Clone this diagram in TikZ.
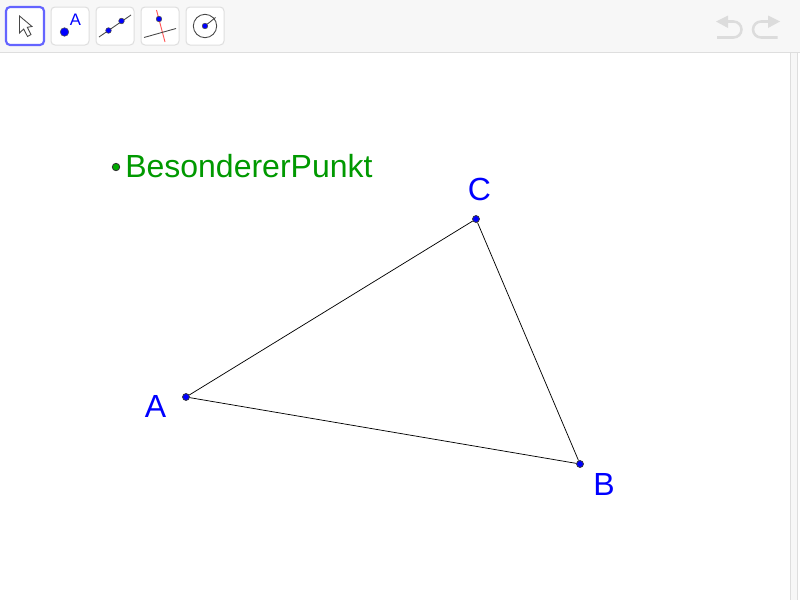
\documentclass[tikz,border=0pt]{standalone}
\usepackage{fontspec}
\setmainfont{Liberation Sans}
\definecolor{ggblue}{RGB}{0,0,255}
\definecolor{gggreen}{RGB}{0,153,0}
\definecolor{dotgreen}{RGB}{0,170,0}
\definecolor{barbg}{RGB}{247,247,247}
\definecolor{barline}{RGB}{222,222,222}
\definecolor{btnline}{RGB}{222,222,222}
\definecolor{undo}{RGB}{220,220,220}
\definecolor{sel}{RGB}{100,100,255}
\definecolor{icon}{RGB}{70,70,70}
\tikzset{
  x=0.75pt,y=-0.75pt,
  btn/.style={draw=btnline,line width=0.75pt,fill=white,rounded corners=3pt},
  pt/.style={circle,draw=black!80,line width=0.55pt,fill=ggblue,inner sep=0pt,minimum size=5.2pt},
  greenpt/.style={circle,draw=black!80,line width=0.6pt,fill=dotgreen,inner sep=0pt,minimum size=5.6pt},
  icopt/.style={circle,draw=black!70,line width=0.4pt,fill=ggblue,inner sep=0pt,minimum size=4.2pt},
  lab/.style={font=\fontsize{24}{24}\selectfont,text=ggblue,inner sep=0pt,anchor=base},
  edge/.style={draw=black,line width=0.55pt},
  ico/.style={draw=icon,line width=0.65pt},
  undoarrow/.style={draw=undo,line width=1.9pt}
}
\begin{document}
\begin{tikzpicture}
\useasboundingbox (0,0) rectangle (800,600);
\fill[white] (0,0) rectangle (800,600);
% toolbar and scrollbar
\fill[barbg] (0,0) rectangle (800,52.5);
\draw[barline,line width=0.75pt] (0,52.5) -- (800,52.5);
\fill[barbg] (790.5,53) rectangle (797.5,600);
\draw[barline,line width=0.75pt] (790.5,53) -- (790.5,600);
\draw[barline,line width=0.75pt] (797.5,53) -- (797.5,600);
% buttons
\draw[draw=sel,line width=1.6pt,fill=white,rounded corners=3pt] (6,7) rectangle (44,45);
\draw[btn] (51,7) rectangle (89,45);
\draw[btn] (96,7) rectangle (134,45);
\draw[btn] (141,7) rectangle (179,45);
\draw[btn] (186,7) rectangle (224,45);
% move icon
\draw[ico,fill=white,line join=miter] (19.5,16) -- (19.5,33) -- (23.7,29) -- (27.5,36.5) -- (31,34.5) -- (27.3,27.3) -- (32,26.5) -- cycle;
% point icon
\node[circle,fill=ggblue,draw=black!70,line width=0.4pt,inner sep=0pt,minimum size=6.4pt] (icA) at (64.5,32) {};
\node[font=\fontsize{12.5}{13}\selectfont,text=ggblue,inner sep=0pt,anchor=base] (icAt) at (75.5,25) {A};
% line icon
\coordinate (l1) at (99,37);
\coordinate (l2) at (131,15);
\draw[ico] (l1) -- (l2);
\node[icopt] (lp1) at (108.5,30.5) {};
\node[icopt] (lp2) at (121.5,21) {};
% perpendicular icon
\draw[draw=red!65,line width=0.7pt] (156.5,10) -- (165,42);
\draw[ico] (144,37.5) -- (176,28.5);
\node[icopt] (pp) at (159,19) {};
% circle icon
\node[circle,draw=icon,line width=0.65pt,inner sep=0pt,minimum size=17.5pt] (cc) at (205,26) {};
\node[icopt] (cp) at (205,26) {};
\draw[ico] (cp) -- (215.5,17.5);
% undo
\draw[undoarrow] (726,21.5) -- (733.5,21.5) arc[start angle=-90,end angle=90,radius=8] -- (717,37.5);
\fill[undo] (716,21.5) -- (728,15.5) -- (728,28) -- cycle;
% redo
\draw[undoarrow] (770,21.5) -- (761,21.5) arc[start angle=-90,end angle=-270,radius=8] -- (777.5,37.5);
\fill[undo] (780,21.5) -- (768,15.5) -- (768,28) -- cycle;
% geometry
\node[pt] (A) at (186,397) {};
\node[pt] (B) at (580,464) {};
\node[pt] (C) at (476,219) {};
\draw[edge] (A) -- (B) -- (C) -- (A);
\node[lab] (Al) at (155.5,417) {A};
\node[lab] (Bl) at (604,495) {B};
\node[lab] (Cl) at (479.5,200.5) {C};
\node[greenpt] (P) at (116,167) {};
\node[font=\fontsize{24}{24}\selectfont,text=gggreen,inner sep=0pt,anchor=base west] (Pl) at (125,177) {BesondererPunkt};
\end{tikzpicture}
\end{document}
